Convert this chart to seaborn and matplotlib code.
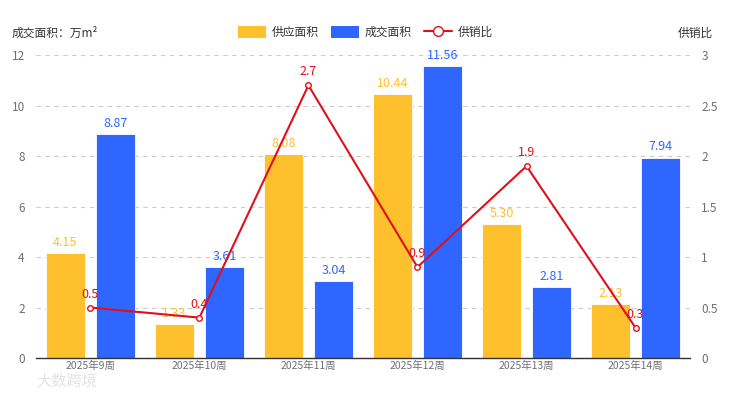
import matplotlib.pyplot as plt
import numpy as np
import pandas as pd
import seaborn as sns
from matplotlib.patches import Patch
from matplotlib.lines import Line2D

weeks = ['2025年9周', '2025年10周', '2025年11周', '2025年12周', '2025年13周', '2025年14周']
supply = [4.15, 1.33, 8.08, 10.44, 5.30, 2.13]
deal = [8.87, 3.61, 3.04, 11.56, 2.81, 7.94]
ratio = [0.5, 0.4, 2.7, 0.9, 1.9, 0.3]

YELLOW = '#FFC02E'
BLUE = '#2F66FF'
RED = '#E0101A'
GREY = '#6E7079'

sns.set_style('white')
plt.rcParams['font.family'] = ['Noto Sans CJK SC', 'DejaVu Sans']

df = pd.DataFrame({'week': weeks * 2,
                   'area': supply + deal,
                   'kind': ['供应面积'] * len(weeks) + ['成交面积'] * len(weeks)})

fig, ax = plt.subplots(figsize=(7.31, 3.93), dpi=100)
fig.subplots_adjust(left=0.049, right=0.944, bottom=0.089, top=0.860)

sns.barplot(data=df, x='week', y='area', hue='kind', order=weeks,
            palette=[YELLOW, BLUE], saturation=1, width=0.92, gap=0.22,
            ax=ax, legend=False, edgecolor='white', linewidth=0.6)

for cont, col in zip(ax.containers, [YELLOW, BLUE]):
    ax.bar_label(cont, fmt='%.2f', color=col, fontsize=9, padding=3)

ax.set_ylim(0, 12)
ax.set_yticks(range(0, 13, 2))
ax.set_xlim(-0.5, len(weeks) - 0.5)
ax.set_xlabel('')
ax.set_ylabel('')
ax.yaxis.grid(True, linestyle=(0, (4, 4)), color='#CCCCCC', linewidth=0.8)
ax.set_axisbelow(True)
for s in ['top', 'right', 'left']:
    ax.spines[s].set_visible(False)
ax.spines['bottom'].set_color('#333333')
ax.spines['bottom'].set_linewidth(1)
ax.tick_params(axis='y', length=0, labelsize=8.5, labelcolor=GREY, pad=8)
ax.tick_params(axis='x', length=0, labelsize=7.5, labelcolor=GREY, pad=2)

ax2 = ax.twinx()
xpos = np.arange(len(weeks))
sns.lineplot(x=xpos, y=ratio, ax=ax2, color=RED, linewidth=1.5,
             marker='o', markersize=4, markerfacecolor='white',
             markeredgecolor=RED, markeredgewidth=1)
for x, v in zip(xpos, ratio):
    ax2.annotate(f'{v:g}', (x, v), xytext=(0, 5), textcoords='offset points',
                 ha='center', va='bottom', color=RED, fontsize=9)
ax2.set_ylim(0, 3)
ax2.set_yticks([0, 0.5, 1, 1.5, 2, 2.5, 3])
ax2.set_yticklabels(['0', '0.5', '1', '1.5', '2', '2.5', '3'])
ax2.set_ylabel('')
for s in ['top', 'right', 'left', 'bottom']:
    ax2.spines[s].set_visible(False)
ax2.tick_params(axis='y', length=0, labelsize=8.5, labelcolor=GREY, pad=8)

fig.text(0.016, 0.915, '成交面积：万m²', fontsize=8.5, color='#333333', va='center')
fig.text(0.975, 0.915, '供销比', fontsize=8.5, color='#333333', va='center', ha='right')

handles = [Patch(facecolor=YELLOW, edgecolor='none'),
           Patch(facecolor=BLUE, edgecolor='none'),
           Line2D([], [], color=RED, marker='o', markersize=7,
                  markerfacecolor='white', markeredgecolor=RED, linewidth=1.5)]
fig.legend(handles, ['供应面积', '成交面积', '供销比'], loc='center',
           bbox_to_anchor=(0.5, 0.918), ncol=3, frameon=False, fontsize=8.5,
           handlelength=2.4, handleheight=1.2, columnspacing=1.0,
           handletextpad=0.5, labelcolor='#333333')

fig.text(0.05, 0.03, '大数跨境', fontsize=11, color='#E3E3E3', va='center')

fig.savefig('out.png', dpi=100)
